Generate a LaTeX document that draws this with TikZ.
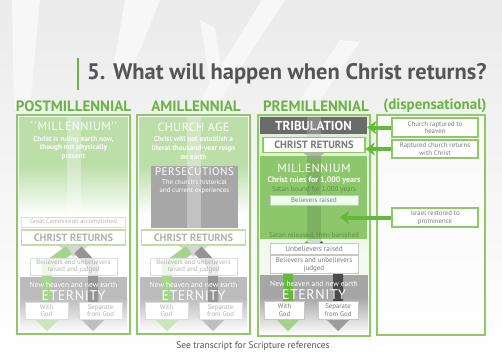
\documentclass[tikz,border=0pt]{standalone}
\usepackage{fontspec}
\setmainfont{PT Sans}
\newfontfamily\spc[LetterSpace=4]{PT Sans}
\usetikzlibrary{arrows.meta}
\definecolor{hgreen}{HTML}{6AB344}
\definecolor{bgreen}{HTML}{8DC965}
\definecolor{mgreen}{HTML}{8CC76B}
\definecolor{lgreen}{HTML}{DCEED0}
\definecolor{tgray}{HTML}{7A7A7A}
\definecolor{ttl}{HTML}{555555}
\definecolor{tribgray}{HTML}{6B6B6B}
\definecolor{egray}{HTML}{A6A6A6}
\definecolor{agreen}{HTML}{66B83C}
\definecolor{adark}{HTML}{4A4A4A}
\definecolor{satan}{HTML}{5E8F45}
\tikzset{
  colframe/.style={draw=bgreen, line width=1.3pt},
  wbox/.style={draw=gray!45, fill=white, line width=0.6pt, text=tgray, align=center, inner sep=0pt, font=\fontsize{6.8}{7.6}\selectfont},
  gbox/.style={draw=bgreen, fill=white, line width=1.3pt, text=tgray, align=center, inner sep=0pt, font=\fontsize{6.8}{7.6}\selectfont},
  crbox/.style={draw=bgreen, fill=white, line width=1.3pt, text=tgray, inner sep=0pt, font=\bfseries\fontsize{10.5}{12}\selectfont},
  header/.style={text=hgreen, font=\bfseries\fontsize{15}{17}\selectfont, inner sep=0pt},
  bigw/.style={text=white, font=\spc\fontsize{12}{14}\selectfont, inner sep=0pt},
  smallw/.style={text=white, align=center, font=\bfseries\fontsize{7.3}{8.8}\selectfont, inner sep=0pt},
  disparrow/.style={draw=agreen, line width=4pt, -{Stealth[length=9pt,width=13pt,inset=2.5pt]}},
  greenshaft/.style={draw=agreen, line width=10pt},
  darkshaft/.style={draw=adark, line width=10pt},
}
\newcommand\lowerpa[1]{%
  \fill[black!45] (3,277) rectangle (110,298);
  \shade[top color=black!45, bottom color=white] (3,298) rectangle (110,332);
  \fill[gray!55] (40.5,245) -- (72.5,245) -- (56.5,257) -- cycle;
  \draw[greenshaft] (52,250) -- (30,266) -- (30,318);
  \draw[darkshaft] (61,250) -- (76,266) -- (76,318);
  \fill[agreen!60!white] (15,316) -- (45,316) -- (30,331) -- cycle;
  \fill[adark!60!white] (61,316) -- (91,316) -- (76,331) -- cycle;
  \node[crbox, minimum width=104pt, minimum height=15pt] (#1cr) at (56.5,237.5) {CHRIST RETURNS};
  \node[wbox, minimum width=87pt, minimum height=17pt, fill opacity=.8, text opacity=1] (#1bu) at (56.5,266.5) {Believers and unbelievers\\raised and judged};
  \node[smallw, font=\fontsize{7.5}{9}\selectfont] (#1nh) at (56.5,285) {New heaven and new earth};
  \node[bigw, font=\spc\fontsize{14}{16}\selectfont] (#1et) at (56.5,296) {ETERNITY};
  \node[wbox, minimum width=43pt, minimum height=17pt] (#1wg) at (29.5,310.5) {With\\God};
  \node[wbox, minimum width=43pt, minimum height=17pt] (#1sg) at (83.5,310.5) {Separate\\from God};
}
\begin{document}
\begin{tikzpicture}[x=1pt,y=-1pt]
\useasboundingbox (0,0) rectangle (502,356);
% background
\shade[top color=black!8, bottom color=white] (0,0) rectangle (502,356);
\fill[black!3] (12,0) -- (40,0) -- (30,110) -- (14,110) -- cycle;
\fill[black!3] (125,0) -- (160,0) -- (130,75) -- (112,75) -- cycle;
\fill[black!3] (262,0) -- (285,0) -- (220,100) -- (200,100) -- cycle;
\fill[black!3] (200,20) -- (215,28) -- (225,95) -- (212,95) -- cycle;
\fill[black!3] (340,40) -- (360,42) -- (320,100) -- (300,100) -- cycle;
% title
\draw[hgreen, line width=1.5pt] (78,58) -- (78,90);
\node[anchor=west, text=ttl, font=\bfseries\fontsize{22.5}{25}\selectfont, inner sep=0pt] (title) at (87,74) {5. What will happen when Christ returns?};
% headers
\node[header] (hpost) at (73.5,106) {POSTMILLENNIAL};
\node[header] (hamil) at (196,106) {AMILLENNIAL};
\node[header] (hpre) at (316,106) {PREMILLENNIAL};
\node[header] (hdisp) at (435,106) {(dispensational)};
% ---------------- POSTMILLENNIAL
\begin{scope}[xshift=17pt]
  \fill[white] (0,115) rectangle (113,334);
  \fill[mgreen] (2,117) rectangle (111,165);
  \shade[top color=mgreen, bottom color=white] (2,165) rectangle (111,215);
  \fill[white, opacity=.3] (49.5,117) rectangle (63.5,245);
  \node[bigw] (pmill) at (56.5,126) {``MILLENNIUM''};
  \node[smallw] (pmtxt) at (56.5,148) {Christ is ruling earth now,\\though not physically\\present};
  \node[wbox, minimum width=104pt, minimum height=10pt, font=\fontsize{6.3}{7}\selectfont] (pgc) at (56.5,222) {Great Commission accomplished};
  \lowerpa{p}
  \fill[white, opacity=.42] (0,115) rectangle (113,334);
  \draw[colframe] (0,115) rectangle (113,334);
\end{scope}
% ---------------- AMILLENNIAL
\begin{scope}[xshift=137pt]
  \fill[white] (0,115) rectangle (113,334);
  \fill[mgreen] (2,117) rectangle (111,165);
  \shade[top color=mgreen, bottom color=white] (2,165) rectangle (111,215);
  \fill[black!59] (14,166) rectangle (101,228);
  \fill[white, opacity=.3] (49.5,117) rectangle (63.5,245);
  \node[bigw] (achurch) at (56.5,127) {CHURCH AGE};
  \node[smallw] (atxt) at (56.5,148) {Christ will not establish a\\literal thousand-year reign\\on earth};
  \node[bigw, font=\spc\fontsize{11}{13}\selectfont] (apers) at (57.5,172) {PERSECUTIONS};
  \node[smallw, font=\fontsize{6.8}{8}\selectfont] (aptxt) at (57.5,186.5) {The church's historical\\and current experiences};
  \lowerpa{a}
  \fill[white, opacity=.42] (0,115) rectangle (113,334);
  \draw[colframe] (0,115) rectangle (113,334);
\end{scope}
% ---------------- PREMILLENNIAL
\shade[top color=lgreen, bottom color=white] (258,115) rectangle (370,336);
\node[fill=tribgray, minimum width=107pt, minimum height=17pt, inner sep=0pt, text=white, font=\bfseries\fontsize{13}{15}\selectfont] (trib) at (313.5,125.5) {TRIBULATION};
\fill[gray!50, opacity=.35] (307,117) rectangle (321,153);
\node[crbox, minimum width=102pt, minimum height=15pt] (precr) at (314,145) {CHRIST RETURNS};
\fill[gray!60] (303,152.5) -- (325,152.5) -- (314,161) -- cycle;
\node[fill=mgreen, minimum width=107pt, minimum height=83pt, inner sep=0pt] (mill) at (313.5,197.5) {};
\fill[gray!60, opacity=.35] (303,156) -- (325,156) -- (314,161) -- cycle;
\fill[black, opacity=.1] (307,156) rectangle (321,239);
\node[bigw] (millt) at (314,168) {MILLENNIUM};
\node[smallw, font=\bfseries\fontsize{8}{9}\selectfont] (mrule) at (314,180.5) {Christ rules for 1,000 years};
\node[text=satan, inner sep=0pt, font=\fontsize{7}{8}\selectfont] (mbound) at (314,189.5) {Satan bound for 1,000 years};
\node[wbox, minimum width=88pt, minimum height=10pt, fill=white!92!green, font=\fontsize{6.8}{7.6}\selectfont] (mbr) at (314,200) {Believers raised};
\node[text=satan, inner sep=0pt, font=\fontsize{7}{8}\selectfont] (mrel) at (314,235.5) {Satan released, then banished};
\coordinate (itip) at (340,214);
% lower premillennial
\fill[egray] (260,275) rectangle (368,297);
\shade[top color=egray, bottom color=white] (260,297) rectangle (368,335);
\fill[gray!45, opacity=.6] (307,239) rectangle (321,250);
\draw[greenshaft] (310,245) -- (288,262) -- (288,318);
\draw[darkshaft] (318,245) -- (338,262) -- (338,318);
\fill[agreen!60!white] (273,316) -- (303,316) -- (288,331) -- cycle;
\fill[adark!55!white] (323,316) -- (353,316) -- (338,331) -- cycle;
\node[wbox, minimum width=88pt, minimum height=11pt, font=\fontsize{7.3}{8}\selectfont] (unb) at (314,248.5) {Unbelievers raised};
\node[wbox, minimum width=88pt, minimum height=18pt, font=\fontsize{7}{8}\selectfont] (buj) at (314,264.5) {Believers and unbelievers\\judged};
\node[smallw, font=\fontsize{7.5}{9}\selectfont] (pnh) at (314,283.5) {New heaven and new earth};
\node[bigw, font=\spc\fontsize{14}{16}\selectfont] (pet) at (314,295) {ETERNITY};
\node[wbox, minimum width=40pt, minimum height=18pt] (pwg) at (284.5,310) {With\\God};
\node[wbox, minimum width=40pt, minimum height=18pt] (psg) at (338,310) {Separate\\from God};
\draw[colframe] (258,115) rectangle (370,336);
% ---------------- DISPENSATIONAL
\draw[colframe, fill=white, fill opacity=.6] (377,115) rectangle (485,335);
\node[gbox, minimum width=86pt, minimum height=19pt] (rapt) at (435,127.5) {Church raptured to\\heaven};
\node[gbox, minimum width=86pt, minimum height=18pt] (ret) at (435,149) {Raptured church returns\\with Christ};
\node[gbox, minimum width=86pt, minimum height=19pt] (isr) at (435,217.5) {Israel restored to\\prominence};
\draw[disparrow] (rapt.west) -- (rapt.west -| trib.east);
\draw[disparrow] (ret.west) -- (ret.west -| precr.east);
\draw[disparrow] (isr.west) -- (isr.west -| itip);
% note
\node[text=ttl, inner sep=0pt, font=\fontsize{9.5}{11}\selectfont] (note) at (253,346) {See transcript for Scripture references};
\end{tikzpicture}
\end{document}
